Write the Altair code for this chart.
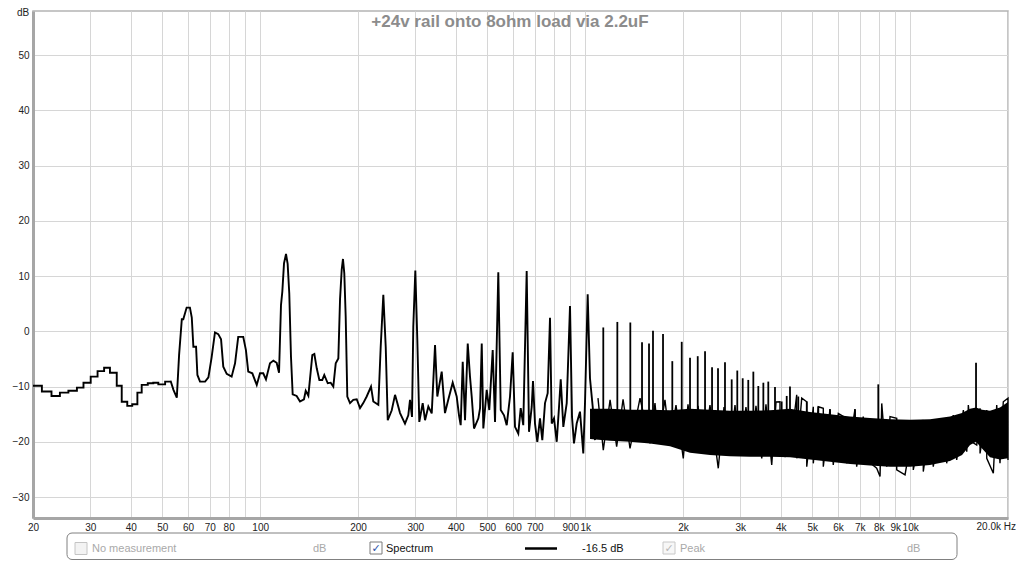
import altair as alt
import pandas as pd

# ---- spectrum trace (Hz, dB) ----
freq_line = [
    20.0, 21.3, 21.3, 22.8, 22.8, 24.2, 24.2, 25.7, 25.7, 27.3, 27.3, 28.6, 28.6, 30.1, 30.1,
    31.6, 31.6, 33.1, 33.1, 34.5, 34.5, 36.2, 36.2, 37.5, 37.5, 39.0, 39.0, 40.4, 40.4, 41.9,
    41.9, 43.2, 43.2, 45.1, 45.1, 46.9, 46.9, 48.6, 48.6, 51.0, 51.0, 53.0, 53.0, 54.1, 55.4,
    56.3, 57.4,
    58.0, 59.4, 60.8, 61.6, 62.3, 63.5, 64.1, 65.3, 67.7, 69.3, 70.9, 72.6, 74.3, 75.8, 77.0,
    78.9, 81.7, 83.7, 85.6, 88.7, 90.4, 91.9, 94.6, 97.6, 99.9, 102.2, 104.2, 107.2, 109.8, 112.4,
    114.3, 115.9, 117.0, 118.4, 120.1, 121.5, 122.9, 124.4, 125.9, 129.5, 132.6, 136.4, 138.1,
    140.7, 144.7, 146.8, 149.3, 152.1, 155.3, 157.5, 161.4, 164.8, 167.9, 170.8, 174.0, 176.1,
    178.2, 179.8, 181.5, 183.3, 185.4, 189.0, 193.4, 198.2, 202.9, 207.6, 212.7, 219.3, 222.9,
    231.0, 234.9, 239.3, 243.4, 246.9, 254.0, 260.0, 264.3, 269.4, 279.0, 285.6, 289.1, 293.2,
    295.9, 300.2, 304.5, 308.8, 316.3, 321.6, 329.2, 337.2, 345.2, 350.8, 361.9, 370.4, 379.1,
    391.2, 402.4, 409.1,
    414.0, 420.0, 426.9, 435.2, 442.2, 447.6, 455.0, 469.2, 474.9, 480.6, 486.0, 497.8, 507.0,
    519.4, 528.0, 540.4, 549.8, 562.8, 573.6, 587.2, 598.4, 608.3, 622.6, 633.4, 645.0, 660.8,
    671.8, 684.8, 691.0, 700.9, 712.4, 726.1, 738.1, 752.4, 766.8, 779.5, 789.0, 802.0, 817.5,
    831.0, 841.0, 856.6, 877.5, 898.2, 911.0, 923.8, 941.7, 964.0, 986.8, 998.8, 1018.0, 1034.7,
    1054.9, 1072.2,
]
db_line = [
    -9.85, -9.85, -10.9, -10.9, -11.7, -11.7, -11.1, -11.1, -10.75, -10.75, -10.2, -10.2, -9.3,
    -9.3, -8.2, -8.2, -7.2, -7.2, -6.6, -6.6, -7.5, -7.5, -9.85, -9.85, -12.75, -12.75, -13.5,
    -13.5, -13.2, -13.2, -11.1, -11.1, -9.7, -9.7, -9.4, -9.4, -9.3, -9.3, -9.6, -9.6, -9.1,
    -9.1, -8.95, -10.6, -12.0, -4.3, 2.2,
    2.2, 4.3, 4.3, 2.5, -2.8, -2.8, -7.9, -9.1, -9.1, -8.35, -4.7, -0.2, -0.5, -1.45, -6.4,
    -7.7, -8.2, -5.8, -1.0, -1.0, -3.4, -7.3, -7.6, -9.7, -7.6, -7.6, -8.7, -5.8, -5.3, -5.7,
    -7.5, 4.75, 7.2, 12.3, 14.0, 12.2, 6.9, -4.6, -11.4, -11.7, -12.7, -12.3, -10.75,
    -11.65, -4.3, -4.1, -6.7, -8.8, -8.8, -7.9, -9.4, -9.3, -10.0, -5.8, -4.9, 5.8,
    11.2, 13.1, 10.5, 2.7, -11.8, -13.0, -12.4, -12.3, -13.9, -13.0, -11.8, -10.0, -12.7,
    -13.3, -2.8, 6.6, -2.8, -16.1, -14.3, -11.5, -13.0, -14.8, -16.7, -15.2, -12.4, -15.5,
    0.8, 11.0, -1.6, -16.4, -13.0, -16.1, -13.6, -14.85, -2.5, -11.8, -7.3, -14.8, -12.4,
    -9.3, -11.8, -15.2,
    -17.0, -5.5, -16.1, -2.2, -8.2, -11.8, -17.6, -15.75, -13.9, -2.2, -17.6, -10.6, -14.25,
    -3.4, -16.4, 10.7, -14.25, -15.2, -17.0, -11.8, -3.8, -17.3, -18.5, -13.9, -17.0, 10.9,
    -18.2, -13.65, -9.0, -16.7, -20.0, -15.75, -19.7, -13.0, -11.2, 2.45, -16.7, -15.75,
    -20.0, -13.65, -8.7, -17.3, -13.0, 4.6, -15.5, -20.3, -16.7, -14.55, -22.1, -13.0,
    6.7, -8.5, -13.65, -19.7,
]

# ---- dense core of the noise above 1 kHz (upper / lower edge, dB) ----
band_freq = [1035, 1193, 1374, 1583, 1824, 2102, 2421, 2790, 3215, 3704, 4268, 4918, 5667,
             6530, 7524, 8670, 9990, 11509, 13261, 14443, 15284, 15946, 16637, 17604, 18897, 20000]
band_hi = [-14.0, -14.0, -14.2, -14.2, -14.3, -14.0, -14.2, -14.4, -14.4, -14.3, -14.0, -14.6,
           -15.0, -15.4, -15.7, -15.9, -16.0, -15.9, -15.4, -14.8, -14.0, -13.8, -14.2, -14.4,
           -13.8, -12.8]
band_lo = [-19.5, -19.8, -20.0, -20.3, -20.8, -22.0, -22.4, -22.6, -22.7, -22.7, -22.8, -23.2,
           -23.6, -24.0, -24.3, -24.5, -24.5, -24.2, -23.5, -22.4, -20.6, -20.0, -21.2, -22.8,
           -23.2, -23.0]

# ---- noise excursions (peaks and dips of the trace) above 1 kHz ----
noise_freq = [1095, 1137, 1193, 1250, 1308, 1374, 1475, 1583, 1640, 1679, 1760, 1824, 1903,
              2004, 2072, 2152, 2225, 2310, 2421, 2568, 2674, 2790, 2891, 2995, 3124, 3254,
              3354, 3494, 3600, 3750, 3866,
              3976, 3976, 4120, 4268, 4476, 4476, 4638, 4806, 4806, 5035, 5035, 5217, 5404,
              5404, 5667, 5800, 6010, 6378, 6378, 6764, 6846, 7172, 7348, 7889, 8078, 8176,
              8470, 8670, 9092, 9092, 9643, 10224, 10224, 10974, 10974, 11508, 11780, 12351,
              12952, 12952, 13572, 13905, 14578, 14932, 15100, 15470, 16028, 16406, 16406,
              17204, 17204, 18026, 18464, 18897, 19344, 20000, 20000]
noise_db = [-12.1, -21.5, -12.4, -20.9, -12.3, -21.2, -12.1, -20.3, -13.0, -19.7, -12.4, -20.3,
            -13.35, -23.0, -13.2, -21.5, -13.5, -22.1, -13.35, -24.8, -13.7, -22.1, -13.35,
            -22.4, -13.7, -21.8, -13.5, -23.0, -13.2, -24.2, -12.8,
            -12.75, -22.1, -22.7, -21.8, -11.5, -23.0, -12.1, -12.75, -24.5, -13.65, -23.9,
            -13.65, -13.95, -24.5, -14.1, -24.2, -14.85, -15.75, -23.9, -14.1, -24.5, -15.45,
            -23.3, -24.8, -26.3, -13.05, -24.5, -15.45, -15.75, -25.1, -26.0, -17.15, -25.1,
            -16.05, -25.4, -16.65, -24.5, -16.05, -15.75, -23.9, -15.15, -23.3, -14.25, -21.8,
            -13.35, -20.0, -20.6, -13.95, -22.1, -14.25, -23.0, -25.7, -13.35, -23.9, -12.75,
            -12.1, -23.3]

# ---- harmonic spikes rising out of the noise ----
spike_freq = [1137, 1256, 1377, 1496, 1572, 1617, 1736, 1854, 1982, 2102, 2220, 2338, 2457,
              2563, 2693, 2824, 2938, 3053, 3176, 3292, 3410, 3534, 3660, 3838, 4024, 4170,
              4268, 4526, 4806, 5217, 5667, 6764, 7978, 15946]
spike_db = [0.7, 1.7, 1.6, -2.0, -2.2, 0.1, -0.5, -5.4, -1.9, -4.8, -4.5, -3.6, -6.5,
            -6.7, -5.6, -8.7, -7.1, -8.5, -8.8, -7.3, -9.9, -9.3, -9.1, -10.1, -12.7, -11.7,
            -10.0, -11.8, -12.7, -13.6, -14.1, -14.1, -9.6, -5.7]

# ---- axis ticks ----
x_grid = [20, 30, 40, 50, 60, 70, 80, 90, 100, 200, 300, 400, 500, 600, 700, 800, 900,
          1000, 2000, 3000, 4000, 5000, 6000, 7000, 8000, 9000, 10000, 20000]
y_grid = [-30, -20, -10, 0, 10, 20, 30, 40, 50]

W, H = 975, 507
FONT = "Liberation Sans"

line_df = pd.DataFrame({"f": freq_line, "db": db_line, "i": list(range(len(freq_line)))})
band_df = pd.DataFrame({"f": band_freq, "hi": band_hi, "lo": band_lo})
noise_df = pd.DataFrame({"f": noise_freq, "db": noise_db, "i": list(range(len(noise_freq)))})
spike_df = pd.DataFrame({"f": spike_freq, "db": spike_db})

xscale = alt.Scale(type="log", domain=[20, 20000], nice=False)
yscale = alt.Scale(domain=[-33.8, 58], nice=False, zero=False)

xaxis = alt.Axis(
    values=x_grid, title=None, grid=True, ticks=False, labelPadding=4,
    labelExpr="(datum.value == 90 || datum.value == 800 || datum.value == 20000) ? '' : "
              "(datum.value >= 1000 ? (datum.value / 1000) + 'k' : datum.value + '')",
    labelFlush=False, labelOverlap=False,
)
yaxis = alt.Axis(values=y_grid, title=None, grid=True, ticks=False, labelPadding=4)

X = alt.X("f:Q", scale=xscale, axis=xaxis)
Y = alt.Y("db:Q", scale=yscale, axis=yaxis)

band = alt.Chart(band_df).mark_area(color="#000000", opacity=1).encode(
    x=alt.X("f:Q", scale=xscale, axis=xaxis),
    y=alt.Y("hi:Q", scale=yscale, axis=yaxis),
    y2="lo:Q",
)

noise = alt.Chart(noise_df).mark_line(color="#000000", strokeWidth=1.4, strokeJoin="miter").encode(
    x=X, y=Y, order="i:Q"
)

line = alt.Chart(line_df).mark_line(color="#000000", strokeWidth=1.9, strokeJoin="miter").encode(
    x=X, y=Y, order="i:Q"
)

spikes = alt.Chart(spike_df).mark_rule(color="#000000", strokeWidth=1.8).encode(
    x=X, y=Y, y2=alt.datum(-17)
)

one = alt.Data(values=[{"k": 0}])

hz_label = alt.Chart(one).mark_text(
    text="20.0k Hz", font=FONT, fontSize=10, color="#222222", baseline="top", align="right", dx=8
).encode(x=alt.datum(20000), y=alt.value(H + 4))

db_label = alt.Chart(one).mark_text(
    text="dB", font=FONT, fontSize=10, color="#222222", baseline="top", align="center"
).encode(x=alt.value(-10), y=alt.value(-3))

title = alt.Chart(one).mark_text(
    text="+24v rail onto 8ohm load via 2.2uF", font=FONT, fontSize=17, fontWeight="bold",
    color="#8c8c8c", align="center", baseline="middle"
).encode(x=alt.value(477), y=alt.value(10.5))

# ---- status bar below the plot ----
box = alt.Chart(one).mark_rect(fill="#ffffff", stroke="#808080", strokeWidth=1, cornerRadius=5).encode(
    x=alt.value(34), x2=alt.value(924), y=alt.value(522), y2=alt.value(548.5)
)
cb1 = alt.Chart(one).mark_rect(fill="#f3f3f3", stroke="#c4c4c4", strokeWidth=1).encode(
    x=alt.value(42), x2=alt.value(54), y=alt.value(531.5), y2=alt.value(543.5)
)
cb2 = alt.Chart(one).mark_rect(fill="#ffffff", stroke="#7a7a7a", strokeWidth=1).encode(
    x=alt.value(337), x2=alt.value(349), y=alt.value(531), y2=alt.value(543)
)
cb3 = alt.Chart(one).mark_rect(fill="#f7f7f7", stroke="#c8c8c8", strokeWidth=1).encode(
    x=alt.value(630), x2=alt.value(642), y=alt.value(531), y2=alt.value(543)
)
chk2 = alt.Chart(one).mark_text(text="✓", font="DejaVu Sans", fontSize=11, fontWeight="bold",
                                color="#2a4fa8", align="center", baseline="middle").encode(
    x=alt.value(343), y=alt.value(537.5))
chk3 = alt.Chart(one).mark_text(text="✓", font="DejaVu Sans", fontSize=11, fontWeight="bold",
                                color="#b8b8b8", align="center", baseline="middle").encode(
    x=alt.value(636), y=alt.value(537.5))
sample = alt.Chart(one).mark_rule(color="#000000", strokeWidth=2.5).encode(
    x=alt.value(492), x2=alt.value(524), y=alt.value(537.5)
)


def status_text(txt, xpos, col):
    return alt.Chart(one).mark_text(text=txt, font=FONT, fontSize=11, color=col,
                                    align="left", baseline="middle").encode(
        x=alt.value(xpos), y=alt.value(537.5))


texts = [
    status_text("No measurement", 59, "#a9a9a9"),
    status_text("dB", 280, "#a9a9a9"),
    status_text("Spectrum", 353, "#111111"),
    status_text("-16.5 dB", 549, "#111111"),
    status_text("Peak", 647, "#a9a9a9"),
    status_text("dB", 874, "#a9a9a9"),
]

chart = alt.layer(
    band, noise, line, spikes, hz_label, db_label, title, box, cb1, cb2, cb3, chk2, chk3, sample,
    *texts
).properties(
    width=W, height=H,
    autosize=alt.AutoSizeParams(type="none"),
    padding={"left": 25, "top": 3, "right": 8, "bottom": 44},
    background="#ffffff",
).configure_view(
    stroke="#b4b4b4", strokeWidth=1.5
).configure_axis(
    labelFont=FONT, labelFontSize=10, labelColor="#222222",
    gridColor="#d6d6d6", gridWidth=1,
    domainColor="#a6a6a6", domainWidth=3,
)

chart.save("out.html", embed_options={"renderer": "svg", "actions": False})
